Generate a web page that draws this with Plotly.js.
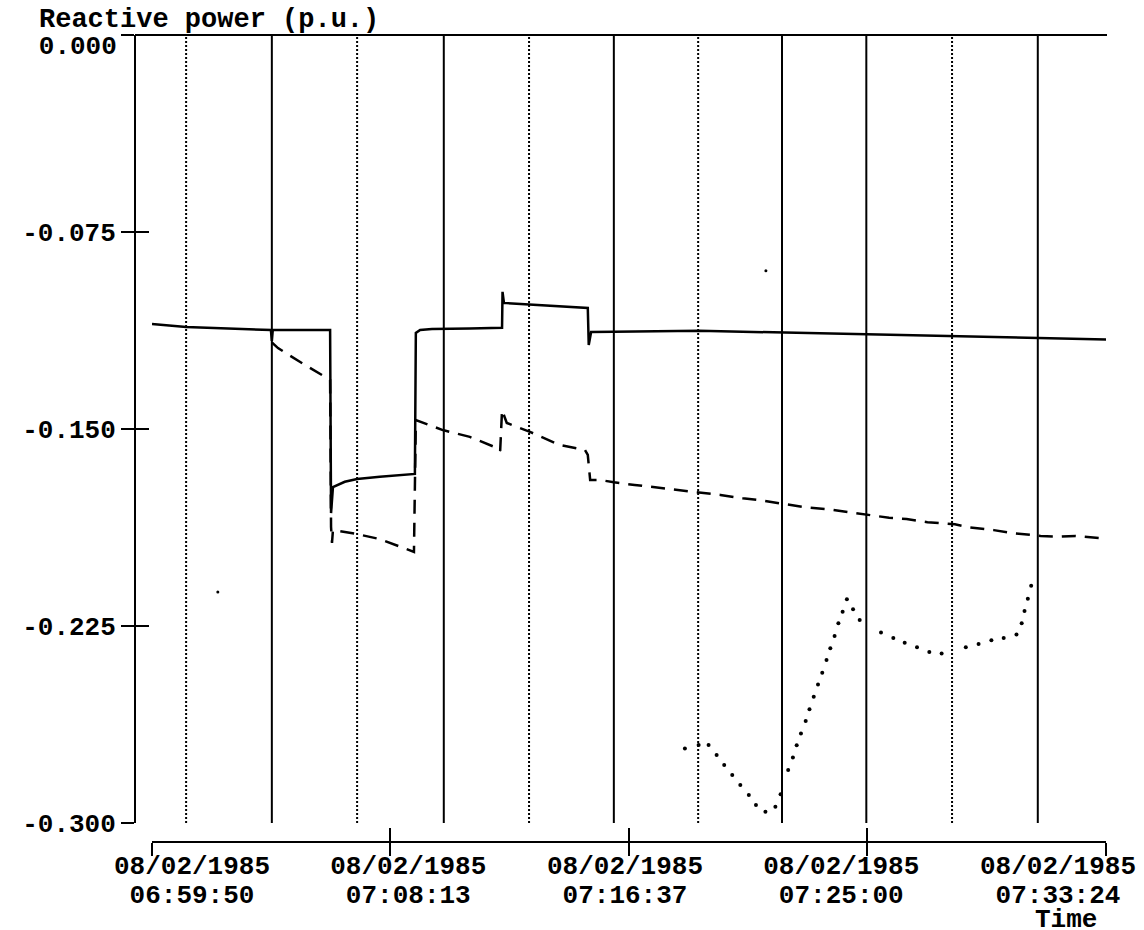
<!DOCTYPE html>
<html>
<head>
<meta charset="utf-8">
<script src="https://cdn.plot.ly/plotly-3.0.1.min.js"></script>
<style>html,body{margin:0;padding:0;background:#fff;}#chart{width:1144px;height:930px;}</style>
</head>
<body>
<div id="chart"></div>
<script>
const DAY = '1985-08-02 ';

// Solid series
const solidTime = ['06:59:50','07:01:02','07:04:01','07:04:03','07:04:05','07:06:06','07:06:08','07:06:12','07:06:37','07:07:03','07:07:51','07:09:05','07:09:07','07:09:16','07:09:41','07:10:06','07:11:01','07:12:09','07:12:10','07:12:13','07:13:08','07:15:10','07:15:12','07:15:17','07:16:05','07:19:05','07:22:06','07:25:01','07:28:05','07:31:07','07:33:26'];
const solidVal = [-0.1100,-0.1112,-0.1123,-0.1165,-0.1123,-0.1123,-0.1820,-0.1721,-0.1701,-0.1690,-0.1682,-0.1671,-0.1134,-0.1123,-0.1119,-0.1119,-0.1117,-0.1115,-0.0978,-0.1020,-0.1026,-0.1039,-0.1180,-0.1131,-0.1130,-0.1126,-0.1133,-0.1140,-0.1146,-0.1152,-0.1159];

// Dashed series
const dashedTime = ['07:04:03','07:04:16','07:05:02','07:05:55','07:06:06','07:06:08','07:06:10','07:06:12','07:07:03','07:07:51','07:08:40','07:09:03','07:09:07','07:10:04','07:11:01','07:11:58','07:12:05','07:12:09','07:12:19','07:13:08','07:14:11','07:15:04','07:15:10','07:15:15','07:15:36','07:16:05','07:16:49','07:17:33','07:18:32','07:19:05','07:19:50','07:20:37','07:21:22','07:22:06','07:22:50','07:23:48','07:24:25','07:25:02','07:25:46','07:26:23','07:27:07','07:28:05','07:28:35','07:29:27','07:30:11','07:31:06','07:31:47','07:32:20','07:33:15'];
const dashedVal = [-0.1170,-0.1192,-0.1244,-0.1302,-0.1313,-0.1873,-0.1934,-0.1885,-0.1900,-0.1919,-0.1953,-0.1968,-0.1466,-0.1504,-0.1530,-0.1572,-0.1584,-0.1428,-0.1477,-0.1511,-0.1561,-0.1580,-0.1599,-0.1694,-0.1694,-0.1703,-0.1713,-0.1722,-0.1735,-0.1741,-0.1751,-0.1764,-0.1773,-0.1786,-0.1798,-0.1808,-0.1817,-0.1825,-0.1838,-0.1843,-0.1855,-0.1863,-0.1874,-0.1885,-0.1897,-0.1907,-0.1910,-0.1907,-0.1916];

// Dotted series
const dottedTime = ['07:18:35','07:19:04','07:19:25','07:19:42','07:19:58','07:20:15','07:20:32','07:20:50','07:21:05','07:21:25','07:21:46','07:21:57','07:22:13','07:22:23','07:22:31','07:22:40','07:22:50','07:22:58','07:23:07','07:23:16','07:23:25','07:23:34','07:23:42','07:23:51','07:23:59','07:24:08','07:24:17','07:24:30','07:24:44','07:25:29','07:25:55','07:26:19','07:26:45','07:27:11','07:27:37','07:28:28','07:28:55','07:29:22','07:29:48','07:30:15','07:30:26','07:30:32','07:30:39','07:30:46'];
const dottedVal = [-0.2716,-0.2703,-0.2703,-0.2741,-0.2779,-0.2817,-0.2855,-0.2893,-0.2931,-0.2957,-0.2938,-0.2891,-0.2798,-0.2751,-0.2704,-0.2659,-0.2612,-0.2567,-0.2519,-0.2473,-0.2428,-0.2379,-0.2335,-0.2288,-0.2240,-0.2196,-0.2148,-0.2186,-0.2227,-0.2275,-0.2296,-0.2314,-0.2331,-0.2349,-0.2355,-0.2331,-0.2319,-0.2304,-0.2296,-0.2282,-0.2240,-0.2193,-0.2146,-0.2097];

// Isolated samples
const strayTime = ['07:02:09','07:21:26'];
const strayVal = [-0.2121,-0.0898];

// Event marker lines
const markerTime = ['07:01:02','07:04:03','07:07:03','07:10:06','07:13:06','07:16:05','07:19:03','07:22:00','07:24:58','07:27:59','07:31:00'];
const markerStyle = ['dot','solid','dot','solid','dot','solid','dot','solid','solid','dot','solid'];

// Axes
const xTickTime = ['06:59:50','07:08:13','07:16:37','07:25:00','07:33:24'];
const xTickDate = ['08/02/1985','08/02/1985','08/02/1985','08/02/1985','08/02/1985'];
const xTickClock = ['06:59:50','07:08:13','07:16:37','07:25:00','07:33:24'];
const yTickVal = [-0.075, -0.150, -0.225, -0.300];
const yTickText = ['-0.075','-0.150','-0.225','-0.300'];
const yTopVal = [0];
const yTopText = ['0.000'];

const d = a => a.map(t => DAY + t);
const FAM = 'Liberation Mono, Courier New, monospace';
const FONT = {family: FAM, size: 26, color: '#000', weight: 'bold'};
const XFONT = {family: FAM, size: 26, color: '#000', weight: 'bold'};
const TFONT = {family: FAM, size: 27, color: '#000', weight: 'bold'};

const W = 1144, H = 930;
const L = 135, R = 37, T = 35, B = 88;
const plotW = W - L - R, plotH = H - T - B;

// main time axis: tick 06:59:50 at px 152, 07:33:24 at px 1106
const xRange = [DAY + xTickTime[0], DAY + xTickTime[xTickTime.length - 1]];
const mainDomain = [(152 - L) / plotW, (1106 - L) / plotW];
// label axes: labels are spread evenly from px 192 to px 1058
const labPad = 60;
const spanSec = 2014;
const labPxPerSec = (1058 - 192) / spanSec;
const labDomain = [(192 - labPad * labPxPerSec - L) / plotW, (1058 + labPad * labPxPerSec - L) / plotW];
const t0 = new Date('1985-08-02T06:59:50Z').getTime();
const fmt = ms => { const s = new Date(ms).toISOString(); return s.slice(0, 10) + ' ' + s.slice(11, 19); };
const labRange = [fmt(t0 - labPad * 1000), fmt(t0 + (spanSec + labPad) * 1000)];

const traces = [
  {x: d(solidTime), y: solidVal, mode: 'lines', line: {color: '#000', width: 2.5}, hoverinfo: 'skip'},
  {x: d(dashedTime), y: dashedVal, mode: 'lines', line: {color: '#000', width: 2.5, dash: '14px,9px'}, hoverinfo: 'skip'},
  {x: d(dottedTime), y: dottedVal, mode: 'markers', marker: {color: '#000', size: 4}, hoverinfo: 'skip'},
  {x: d(strayTime), y: strayVal, mode: 'markers', marker: {color: '#000', size: 3}, hoverinfo: 'skip'},
  {x: [], y: [], xaxis: 'x2', yaxis: 'y2', hoverinfo: 'skip'},
  {x: [], y: [], xaxis: 'x3', yaxis: 'y3', hoverinfo: 'skip'},
  {x: [], y: [], xaxis: 'x4', yaxis: 'y', hoverinfo: 'skip'}
];

const shapes = markerTime.map((t, i) => ({
  type: 'line', xref: 'x', yref: 'y', x0: DAY + t, x1: DAY + t, y0: -0.3, y1: 0,
  line: {color: '#000', width: 2, dash: markerStyle[i] === 'dot' ? '2px,2px' : 'solid'}
}));
shapes.push({type: 'line', xref: 'paper', yref: 'paper', x0: 0, x1: 1, y0: 1, y1: 1, line: {color: '#000', width: 2}});

const layout = {
  width: W, height: H,
  margin: {l: L, r: R, t: T, b: B, pad: 0},
  paper_bgcolor: '#fff', plot_bgcolor: 'rgba(0,0,0,0)',
  showlegend: false,
  font: FONT,
  xaxis: {
    type: 'date', range: xRange, domain: mainDomain,
    anchor: 'free', position: 0,
    showline: true, linecolor: '#000', linewidth: 2,
    showgrid: false, zeroline: false,
    ticks: 'outside', ticklen: 13, tickwidth: 2, tickcolor: '#000',
    tickvals: d(xTickTime), showticklabels: false
  },
  xaxis2: {
    type: 'date', range: xRange, overlaying: 'x', anchor: 'free', position: 0,
    showline: false, showgrid: false, zeroline: false, showticklabels: false,
    ticks: 'inside', ticklen: 14, tickwidth: 2, tickcolor: '#000',
    tickvals: d(xTickTime)
  },
  xaxis3: {
    type: 'date', range: labRange, domain: labDomain, anchor: 'free', position: 0,
    showline: false, showgrid: false, zeroline: false, ticks: '',
    tickvals: d(xTickTime), ticktext: xTickDate, tickfont: XFONT,
    ticklabelstandoff: 5
  },
  xaxis4: {
    type: 'date', range: labRange, domain: labDomain, anchor: 'free', position: 0,
    showline: false, showgrid: false, zeroline: false, ticks: '',
    tickvals: d(xTickTime), ticktext: xTickClock, tickfont: XFONT,
    ticklabelstandoff: 34
  },
  yaxis: {
    range: [-0.3, 0], domain: [19 / plotH, 1],
    anchor: 'free', position: 0,
    showline: true, linecolor: '#000', linewidth: 2,
    showgrid: false, zeroline: false,
    ticks: 'outside', ticklen: 13, tickwidth: 2, tickcolor: '#000',
    tickvals: yTickVal.concat(yTopVal), ticktext: yTickText.concat(['']),
    tickfont: FONT
  },
  yaxis2: {
    range: [-0.3, 0], overlaying: 'y', anchor: 'free', position: 0,
    showline: false, showgrid: false, zeroline: false, showticklabels: false,
    ticks: 'inside', ticklen: 13, tickwidth: 2, tickcolor: '#000',
    tickvals: yTickVal.concat(yTopVal)
  },
  yaxis3: {
    range: [-0.3, 0], overlaying: 'y', anchor: 'free', position: 0,
    showline: false, showgrid: false, zeroline: false,
    ticks: 'outside', ticklen: 13, tickwidth: 0, tickcolor: 'rgba(0,0,0,0)',
    tickvals: yTopVal, ticktext: yTopText, tickfont: FONT,
    ticklabelshift: 10
  },
  shapes: shapes,
  annotations: [
    {text: 'Reactive power (p.u.)', xref: 'paper', yref: 'paper', x: (37 - L) / plotW, y: (H - B - 20) / plotH,
     xanchor: 'left', yanchor: 'middle', showarrow: false, font: TFONT},
    {text: 'Time', xref: 'paper', yref: 'paper', x: (1099 - L) / plotW, y: (H - B - 920) / plotH,
     xanchor: 'right', yanchor: 'middle', showarrow: false, font: FONT}
  ]
};

Plotly.newPlot('chart', traces, layout, {staticPlot: true, displayModeBar: false});
</script>
</body>
</html>
